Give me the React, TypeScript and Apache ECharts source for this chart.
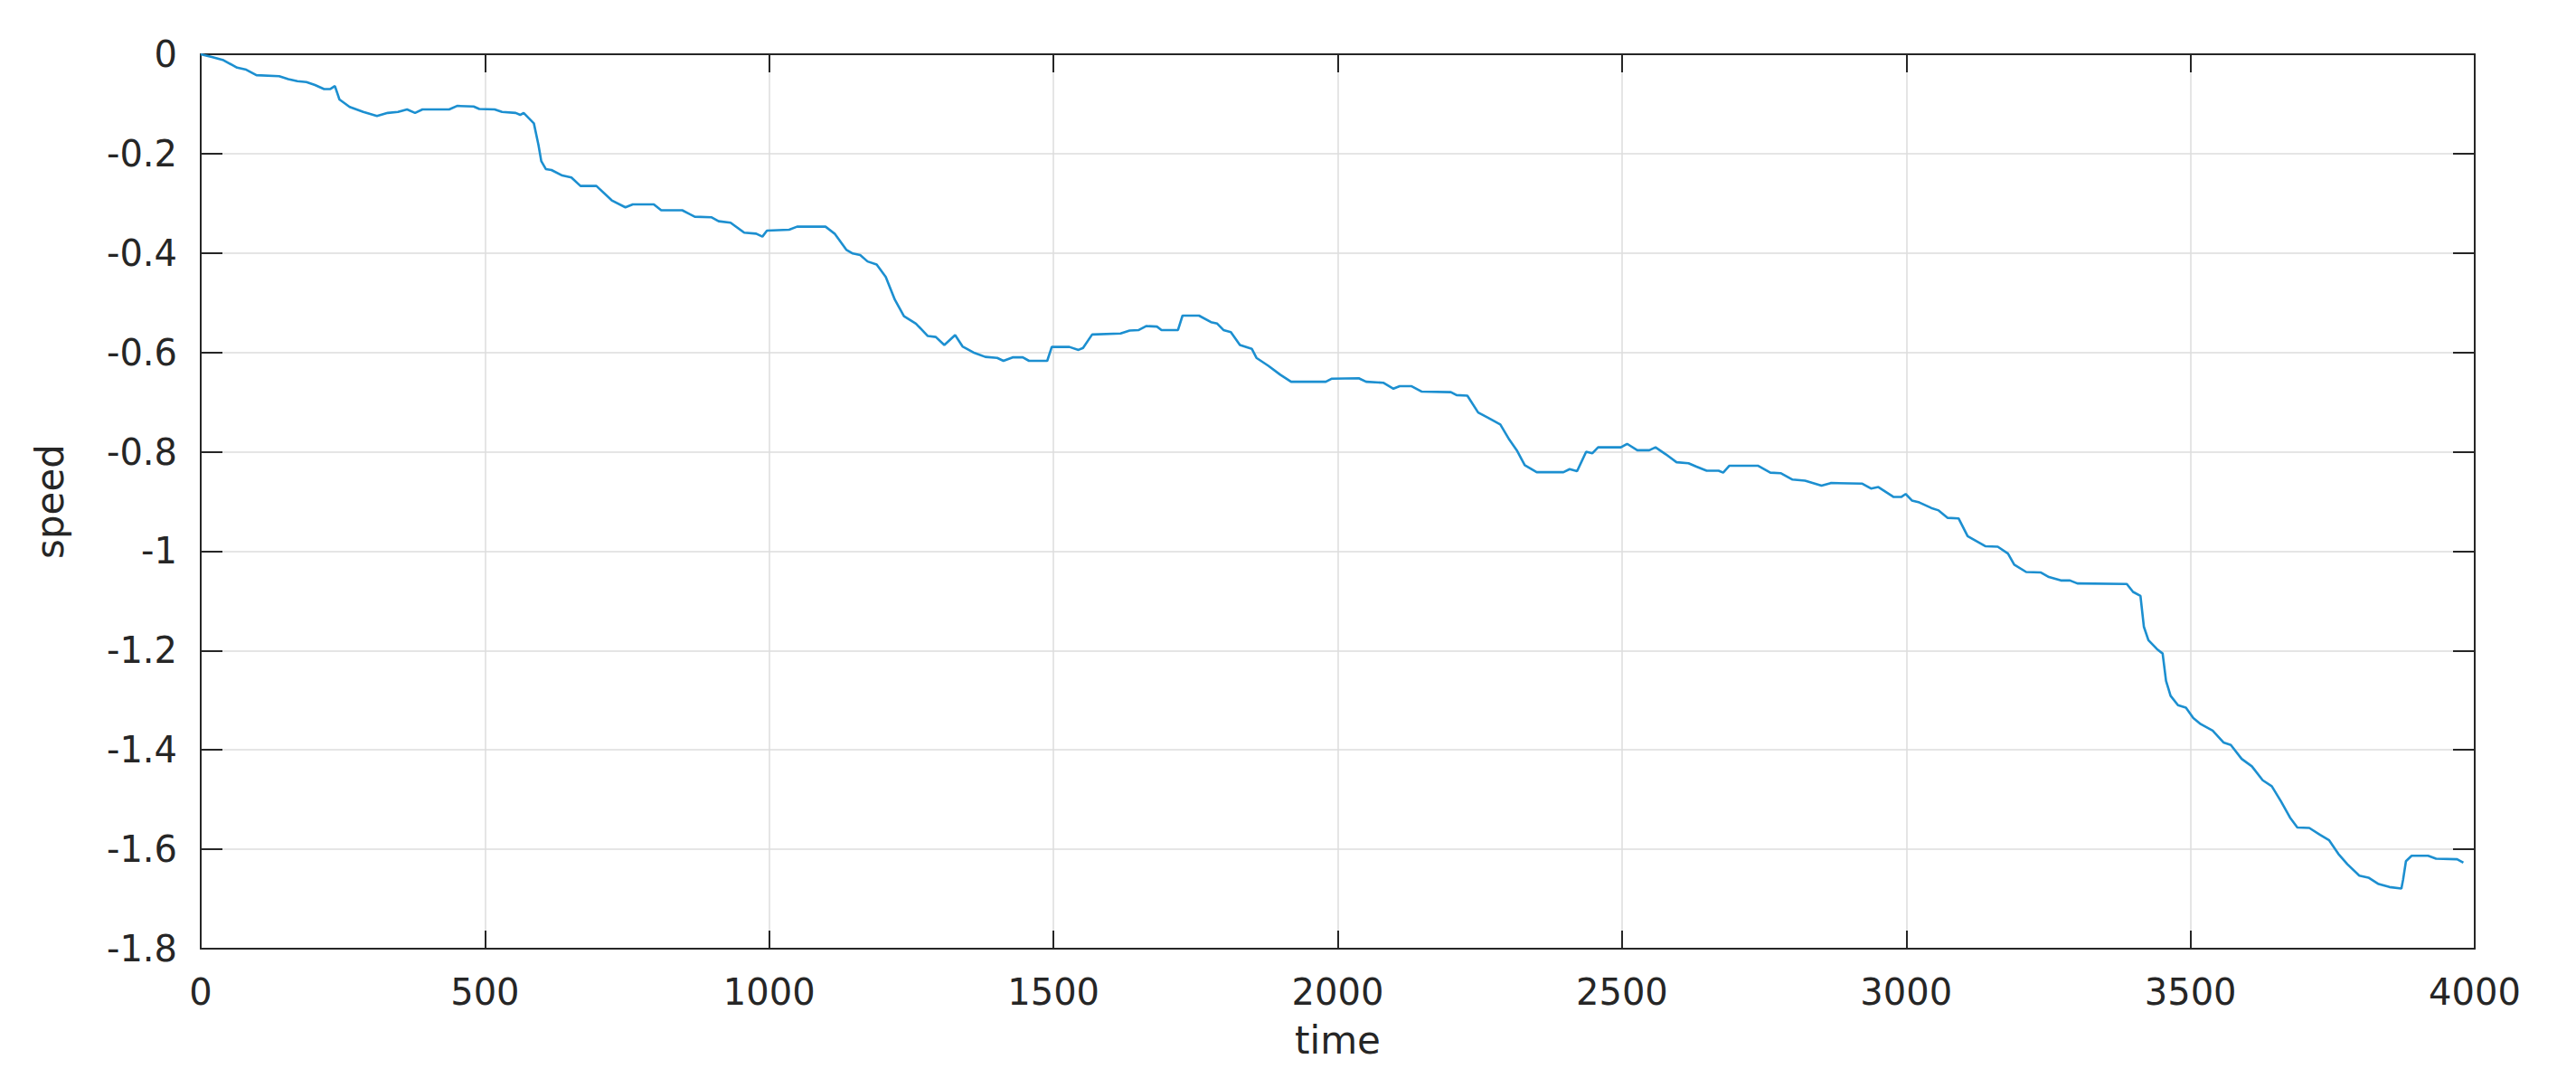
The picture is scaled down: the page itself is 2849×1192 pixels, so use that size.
import React, { useEffect, useRef } from "react";
import * as echarts from "echarts";

const timeValues: number[] = [
  0, 21, 40, 64, 80, 98, 138, 154, 170, 186,
  201, 217, 228, 236, 244, 262, 286, 310, 329, 347,
  363, 377, 390, 437, 451, 480, 490, 517, 530, 554,
  562, 568, 586, 594, 599, 607, 617, 636, 652, 668,
  696, 723, 747, 760, 797, 810, 847, 869, 898, 911,
  932, 956, 977, 988, 996, 1035, 1049, 1099, 1115, 1136,
  1147, 1160, 1173, 1189, 1205, 1221, 1237, 1258, 1279, 1293,
  1308, 1327, 1340, 1359, 1380, 1401, 1412, 1428, 1446, 1457,
  1489, 1497, 1528, 1544, 1552, 1568, 1618, 1634, 1650, 1663,
  1682, 1690, 1719, 1727, 1756, 1777, 1788, 1799, 1812, 1828,
  1849, 1857, 1878, 1899, 1918, 1979, 1989, 2037, 2050, 2080,
  2098, 2109, 2130, 2148, 2199, 2209, 2228, 2247, 2265, 2286,
  2302, 2315, 2329, 2350, 2397, 2408, 2421, 2437, 2448, 2458,
  2498, 2509, 2527, 2548, 2559, 2577, 2596, 2617, 2631, 2649,
  2670, 2678, 2689, 2739, 2761, 2779, 2800, 2822, 2851, 2867,
  2922, 2938, 2951, 2978, 2991, 2999, 3010, 3023, 3044, 3057,
  3073, 3092, 3108, 3139, 3161, 3179, 3190, 3211, 3237, 3251,
  3272, 3288, 3301, 3388, 3399, 3412, 3418, 3426, 3441, 3451,
  3457, 3465, 3478, 3492, 3505, 3518, 3539, 3558, 3571, 3590,
  3608, 3627, 3643, 3659, 3675, 3688, 3709, 3728, 3744, 3760,
  3776, 3797, 3813, 3831, 3850, 3871, 3874, 3879, 3889, 3918,
  3932, 3969, 3980,
];

const speedValues: number[] = [
  0, -0.006, -0.012, -0.027, -0.031, -0.042, -0.044, -0.05, -0.054, -0.056,
  -0.062, -0.07, -0.07, -0.064, -0.091, -0.106, -0.116, -0.124, -0.118, -0.116,
  -0.111, -0.118, -0.111, -0.111, -0.104, -0.105, -0.11, -0.111, -0.116, -0.118,
  -0.122, -0.118, -0.139, -0.182, -0.215, -0.231, -0.233, -0.244, -0.248, -0.265,
  -0.265, -0.294, -0.308, -0.302, -0.302, -0.314, -0.314, -0.327, -0.328, -0.336,
  -0.339, -0.359, -0.361, -0.367, -0.355, -0.353, -0.347, -0.347, -0.361, -0.394,
  -0.401, -0.404, -0.417, -0.423, -0.448, -0.494, -0.527, -0.542, -0.567, -0.569,
  -0.585, -0.565, -0.588, -0.6, -0.609, -0.611, -0.617, -0.61, -0.61, -0.617,
  -0.617, -0.589, -0.589, -0.595, -0.591, -0.564, -0.562, -0.556, -0.555, -0.547,
  -0.548, -0.555, -0.555, -0.526, -0.526, -0.539, -0.542, -0.555, -0.559, -0.585,
  -0.593, -0.611, -0.627, -0.645, -0.659, -0.659, -0.653, -0.652, -0.659, -0.661,
  -0.673, -0.668, -0.668, -0.679, -0.68, -0.686, -0.687, -0.721, -0.732, -0.745,
  -0.776, -0.797, -0.827, -0.841, -0.841, -0.835, -0.839, -0.8, -0.803, -0.791,
  -0.791, -0.784, -0.797, -0.797, -0.791, -0.805, -0.821, -0.823, -0.83, -0.838,
  -0.838, -0.842, -0.828, -0.828, -0.842, -0.843, -0.856, -0.858, -0.868, -0.863,
  -0.864, -0.874, -0.871, -0.891, -0.891, -0.885, -0.898, -0.902, -0.913, -0.918,
  -0.933, -0.934, -0.97, -0.99, -0.991, -1.005, -1.027, -1.042, -1.043, -1.052,
  -1.059, -1.059, -1.065, -1.066, -1.082, -1.09, -1.152, -1.179, -1.197, -1.206,
  -1.261, -1.291, -1.31, -1.315, -1.336, -1.348, -1.361, -1.385, -1.39, -1.418,
  -1.433, -1.461, -1.473, -1.503, -1.536, -1.556, -1.557, -1.571, -1.582, -1.609,
  -1.63, -1.653, -1.657, -1.67, -1.676, -1.679, -1.661, -1.624, -1.613, -1.613,
  -1.619, -1.62, -1.627,
];

const xTicks = { min: 0, max: 4000, interval: 500 };
const yTicks = { min: -1.8, max: 0, interval: 0.2 };
const xLabel = "time";
const yLabel = "speed";

const INK = "#262626";
const FONT = "DejaVu Sans";

export default function App() {
  const ref = useRef<HTMLDivElement>(null);

  useEffect(() => {
    document.body.style.margin = "0";
    document.body.style.overflow = "hidden";
    if (!ref.current) return;
    const chart = echarts.init(ref.current, undefined, { renderer: "svg" });

    const data = timeValues.map((t, i) => [t, speedValues[i]]);

    const axisLine = { show: true, onZero: false, lineStyle: { color: INK, width: 2 } };
    const labelStyle = { color: INK, fontSize: 40, fontFamily: FONT };

    chart.setOption({
      animation: false,
      backgroundColor: "#ffffff",
      grid: { left: 222, top: 60, width: 2515, height: 989, containLabel: false },
      xAxis: [
        {
          type: "value",
          position: "bottom",
          min: xTicks.min,
          max: xTicks.max,
          interval: xTicks.interval,
          axisLine,
          axisTick: { show: true, inside: true, length: 20, lineStyle: { color: INK, width: 2 } },
          axisLabel: { ...labelStyle, margin: 28, formatter: (v: number) => String(v) },
          splitLine: { show: true, lineStyle: { color: "#dcdcdc", width: 1.5 } },
          name: xLabel,
          nameLocation: "middle",
          nameGap: 80,
          nameTextStyle: { color: INK, fontSize: 42, fontFamily: FONT },
        },
        {
          type: "value",
          position: "top",
          min: xTicks.min,
          max: xTicks.max,
          interval: xTicks.interval,
          axisLine,
          axisTick: { show: true, inside: true, length: 20, lineStyle: { color: INK, width: 2 } },
          axisLabel: { show: false },
          splitLine: { show: false },
        },
      ],
      yAxis: [
        {
          type: "value",
          position: "left",
          min: yTicks.min,
          max: yTicks.max,
          interval: yTicks.interval,
          axisLine,
          axisTick: { show: true, inside: true, length: 24, lineStyle: { color: INK, width: 2 } },
          axisLabel: { ...labelStyle, margin: 26 },
          splitLine: { show: true, lineStyle: { color: "#dcdcdc", width: 1.5 } },
          name: yLabel,
          nameLocation: "middle",
          nameGap: 146,
          nameRotate: 90,
          nameTextStyle: { color: INK, fontSize: 42, fontFamily: FONT },
        },
        {
          type: "value",
          position: "right",
          min: yTicks.min,
          max: yTicks.max,
          interval: yTicks.interval,
          axisLine,
          axisTick: { show: true, inside: true, length: 24, lineStyle: { color: INK, width: 2 } },
          axisLabel: { show: false },
          splitLine: { show: false },
        },
      ],
      series: [
        {
          type: "line",
          xAxisIndex: 0,
          yAxisIndex: 0,
          data,
          showSymbol: false,
          symbol: "none",
          lineStyle: { color: "#1c8fd0", width: 2.6 },
          z: 5,
        },
      ],
    });

    return () => chart.dispose();
  }, []);

  return <div ref={ref} style={{ width: 2849, height: 1192 }} />;
}
